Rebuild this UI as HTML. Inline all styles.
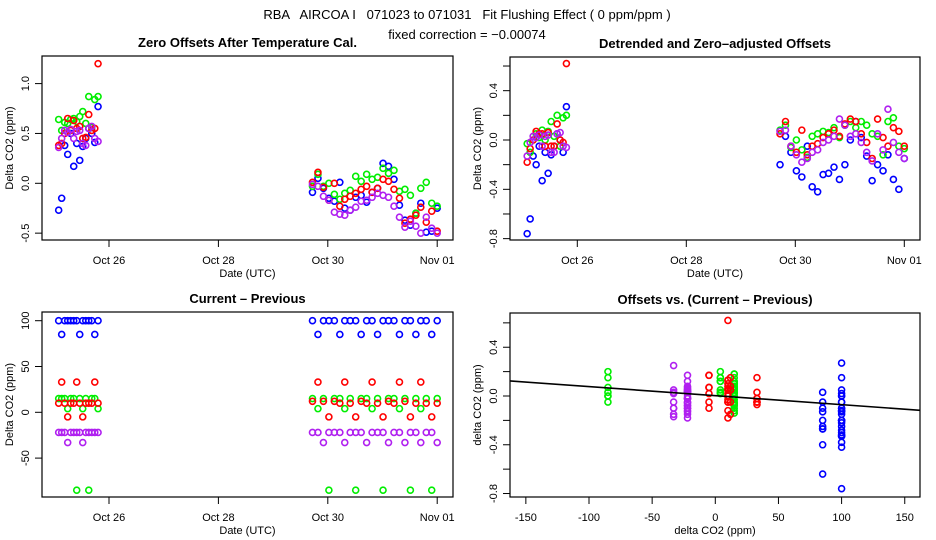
<!DOCTYPE html>
<html><head><meta charset="utf-8"><style>
html,body{margin:0;padding:0;background:#fff;}
svg{display:block;font-family:"Liberation Sans",sans-serif;}
</style></head><body>
<svg id="chart" width="936" height="540" viewBox="0 0 936 540" xmlns="http://www.w3.org/2000/svg">
<rect width="936" height="540" fill="#fff"/>
<text x="467" y="19" font-size="13" text-anchor="middle" xml:space="preserve">RBA   AIRCOA I   071023 to 071031   Fit Flushing Effect ( 0 ppm/ppm )</text>
<text x="467" y="39" font-size="13" text-anchor="middle">fixed correction = −0.00074</text>
<g id="plots"></g>
</svg>
<script>
// time grids (day of October; Nov 01 = 32)
const times1 = [25.08,25.135,25.19,25.245,25.30,25.355,25.41,25.465,25.52,25.575,25.63,25.685,25.74,25.80];
const times2 = [29.72,29.82,29.92,30.02,30.12,30.22,30.31,30.41,30.51,30.61,30.71,30.81,30.91,31.01,31.11,31.21,31.31,31.41,31.51,31.61,31.70,31.80,31.90,32.0];
// raw offsets (panel 1)
const blueRaw = [-0.27,-0.15,0.38,0.29,0.5,0.17,0.4,0.23,0.37,0.45,0.55,0.5,0.41,0.77, -0.09,0.05,-0.05,-0.15,-0.18,0.01,-0.25,-0.27,-0.14,-0.12,-0.19,-0.09,-0.05,0.2,0.17,0.04,-0.22,-0.37,-0.42,-0.3,-0.2,-0.49,-0.48,-0.25];
const greenRaw = [0.64,0.53,0.61,0.6,0.64,0.65,0.62,0.67,0.72,0.6,0.87,0.56,0.84,0.87, -0.03,0.09,-0.03,0.0,-0.11,-0.16,-0.1,-0.07,0.07,0.02,0.09,0.04,0.06,0.15,0.1,0.13,-0.08,-0.06,-0.12,-0.3,-0.05,0.01,-0.2,-0.23];
const redRaw = [0.38,0.4,0.5,0.65,0.53,0.63,0.55,0.57,0.45,0.46,0.69,0.53,0.55,1.2, 0.01,0.11,-0.04,-0.17,0.0,-0.23,-0.16,-0.13,-0.1,-0.06,-0.03,-0.09,-0.05,0.04,0.02,-0.06,-0.15,-0.4,-0.36,-0.32,-0.24,-0.39,-0.28,-0.48];
const purpleRaw = [0.36,0.45,0.53,0.51,0.54,0.45,0.52,0.53,0.4,0.38,0.55,0.57,0.45,0.42, -0.01,-0.03,-0.13,-0.17,-0.29,-0.31,-0.32,-0.27,-0.24,-0.18,-0.17,-0.14,-0.1,-0.12,-0.14,-0.23,-0.34,-0.44,-0.38,-0.43,-0.5,-0.34,-0.45,-0.5];
// detrended offsets (panels 2 and 4)
const blueDet = [-0.76,-0.64,-0.13,-0.2,-0.05,-0.33,-0.1,-0.27,-0.12,-0.05,0.05,0.0,-0.1,0.27, -0.2,0.03,-0.1,-0.25,-0.3,-0.05,-0.38,-0.42,-0.28,-0.27,-0.22,-0.32,-0.2,0.0,0.15,0.02,-0.13,-0.33,-0.2,-0.25,-0.12,-0.32,-0.4,-0.15];
const greenDet = [-0.03,-0.1,0.0,0.05,0.02,0.08,0.0,0.07,0.15,0.03,0.2,-0.05,0.18,0.2, 0.08,0.12,-0.06,0.0,-0.08,-0.14,0.03,0.05,0.07,0.06,0.1,0.02,0.12,0.15,0.1,0.15,0.12,0.05,0.03,-0.12,0.15,0.18,-0.05,-0.07];
const redDet = [-0.18,-0.07,0.0,0.07,0.05,0.05,-0.05,0.06,-0.05,-0.05,0.13,0.0,-0.02,0.62, 0.05,0.15,-0.05,-0.1,0.08,-0.12,-0.05,-0.03,0.02,0.05,0.08,0.03,0.13,0.17,0.15,0.05,-0.02,-0.15,0.17,0.02,-0.05,0.1,0.07,-0.05];
const purpleDet = [-0.13,-0.02,0.03,0.02,0.04,-0.05,0.03,0.04,-0.1,-0.1,0.05,0.06,-0.05,-0.06, 0.07,0.08,-0.05,-0.12,-0.18,-0.15,-0.1,-0.08,-0.02,0.0,0.03,0.17,0.12,0.03,0.05,-0.02,-0.1,-0.17,0.05,-0.08,0.25,-0.02,-0.1,-0.15];
// current - previous (panel 3, x of panel 4)
const blueDc = [100,85,100,100,100,100,100,85,100,100,100,100,85,100, 100,85,100,100,100,85,100,100,100,85,100,100,85,100,100,100,85,100,100,85,100,100,85,100];
const greenDc = [15,15,15,4,15,15,-85,15,4,15,-85,15,15,4, 15,4,15,-85,15,15,4,15,-85,15,15,4,15,-85,15,15,4,15,-85,15,4,15,-85,15];
const redDc = [10,33,10,-5,10,10,33,10,-5,10,10,10,33,10, 12,33,12,-5,12,10,33,10,-5,12,10,33,10,-5,12,10,33,12,-5,10,33,10,-5,10];
const purpleDc = [-22,-22,-22,-33,-22,-22,-22,-22,-33,-22,-22,-22,-22,-22, -22,-22,-33,-22,-22,-22,-33,-22,-22,-22,-33,-22,-22,-22,-33,-22,-22,-33,-22,-22,-33,-22,-22,-33];
// fit line
const fitIntercept = 0.003;
const fitSlope = -0.00074;
// tick labels
const dateTicks = [26,28,30,32];
const dateLabels = ['Oct 26','Oct 28','Oct 30','Nov 01'];
const p1Ticks = [-0.5,0,0.5,1.0];
const p1Labels = ['-0.5','0.0','0.5','1.0'];
const detTicks = [-0.8,-0.6,-0.4,-0.2,0,0.2,0.4,0.6];
const detLabels = ['-0.8','','-0.4','','0.0','','0.4',''];
const p3Ticks = [-50,0,50,100];
const p3Labels = ['-50','0','50','100'];
const p4XTicks = [-150,-100,-50,0,50,100,150];
const p4XLabels = ['-150','-100','-50','0','50','100','150'];

const NS='http://www.w3.org/2000/svg';
const root=document.getElementById('plots');
function mk(tag,attrs,parent){const e=document.createElementNS(NS,tag);for(const k in attrs)e.setAttribute(k,attrs[k]);(parent||root).appendChild(e);return e;}
const times=times1.concat(times2);
const series=[
 {n:'blue',c:'#0000ff',raw:blueRaw,det:blueDet,dc:blueDc},
 {n:'green',c:'#00ee00',raw:greenRaw,det:greenDet,dc:greenDc},
 {n:'red',c:'#ff0000',raw:redRaw,det:redDet,dc:redDc},
 {n:'purple',c:'#b020f0',raw:purpleRaw,det:purpleDet,dc:purpleDc}];

function panel(name,box,title,xs,ys,xTicks,xLabels,yTicks,yLabels,xTitle,yTitle){
  const g=mk('g',{});
  
  
  const t=mk('text',{x:(box.l+box.r)/2,y:box.t-9,'font-size':13,'font-weight':'bold','text-anchor':'middle'},g);
  t.textContent=title;
  
  
  const r=mk('rect',{x:box.l,y:box.t,width:box.r-box.l,height:box.b-box.t,fill:'none',stroke:'#000','stroke-width':1.2},g);
  
  
  xTicks.forEach((v,i)=>{const x=xs(v);
    mk('line',{x1:x,y1:box.b,x2:x,y2:box.b+7,stroke:'#000'},g);
    const l=mk('text',{x:x,y:box.b+24,'font-size':11,'text-anchor':'middle'},g);l.textContent=xLabels[i];
    
    });
  yTicks.forEach((v,i)=>{const y=ys(v);
    mk('line',{x1:box.l-7,y1:y,x2:box.l,y2:y,stroke:'#000'},g);
    if(yLabels[i]){const l=mk('text',{x:box.l-13,y:y,'font-size':11,'text-anchor':'middle',transform:`rotate(-90 ${box.l-13} ${y})`},g);l.textContent=yLabels[i];
    
    }});
  const xt=mk('text',{x:(box.l+box.r)/2,y:box.b+37,'font-size':11,'text-anchor':'middle'},g);xt.textContent=xTitle;
  
  
  const yc=(box.t+box.b)/2;
  const yt=mk('text',{x:box.l-29,y:yc,'font-size':11,'text-anchor':'middle',transform:`rotate(-90 ${box.l-29} ${yc})`},g);yt.textContent=yTitle;
  
  
  return g;
}
function pts(g,xv,yv,xs,ys,s){
  for(let i=0;i<yv.length;i++){
    const c=mk('circle',{cx:xs(xv[i]),cy:ys(yv[i]),r:3,fill:'none',stroke:s.c,'stroke-width':1.6},g);
    
    
  }
}
// Panel 1
const x1=d=>109+(d-26)*54.7, y1=v=>183.3-v*99.7;
const g1=panel('zero-offsets-panel',{l:42,r:453,t:56,b:240},'Zero Offsets After Temperature Cal.',x1,y1,dateTicks,dateLabels,p1Ticks,p1Labels,'Date (UTC)','Delta CO2 (ppm)');
series.forEach(s=>pts(g1,times,s.raw,x1,y1,s));
// Panel 2
const x2=d=>577.3+(d-26)*54.5, y2=v=>140-v*123.3;
const g2=panel('detrended-offsets-panel',{l:510,r:920,t:57,b:240},'Detrended and Zero\u2013adjusted Offsets',x2,y2,dateTicks,dateLabels,detTicks,detLabels,'Date (UTC)','Delta CO2 (ppm)');
series.forEach(s=>pts(g2,times,s.det,x2,y2,s));
// Panel 3
const y3=v=>412.3-v*0.916;
const g3=panel('current-minus-previous-panel',{l:42,r:453,t:312,b:497},'Current \u2013 Previous',x1,y3,dateTicks,dateLabels,p3Ticks,p3Labels,'Date (UTC)','Delta CO2 (ppm)');
series.forEach(s=>pts(g3,times,s.dc,x1,y3,s));
// Panel 4
const x4=v=>715.3+v*1.263, y4=v=>396-v*121.9;
const g4=panel('offsets-vs-delta-panel',{l:510,r:920,t:313,b:497},'Offsets vs. (Current \u2013 Previous)',x4,y4,p4XTicks,p4XLabels,detTicks,detLabels,'delta CO2 (ppm)','delta CO2 (ppm)');
series.forEach(s=>pts(g4,s.dc,s.det,x4,y4,s));
const fl=mk('line',{x1:510,y1:y4(fitIntercept+fitSlope*(-162.5)),x2:920,y2:y4(fitIntercept+fitSlope*162.2),stroke:'#000','stroke-width':1.6},g4);


</script>
</body></html>
